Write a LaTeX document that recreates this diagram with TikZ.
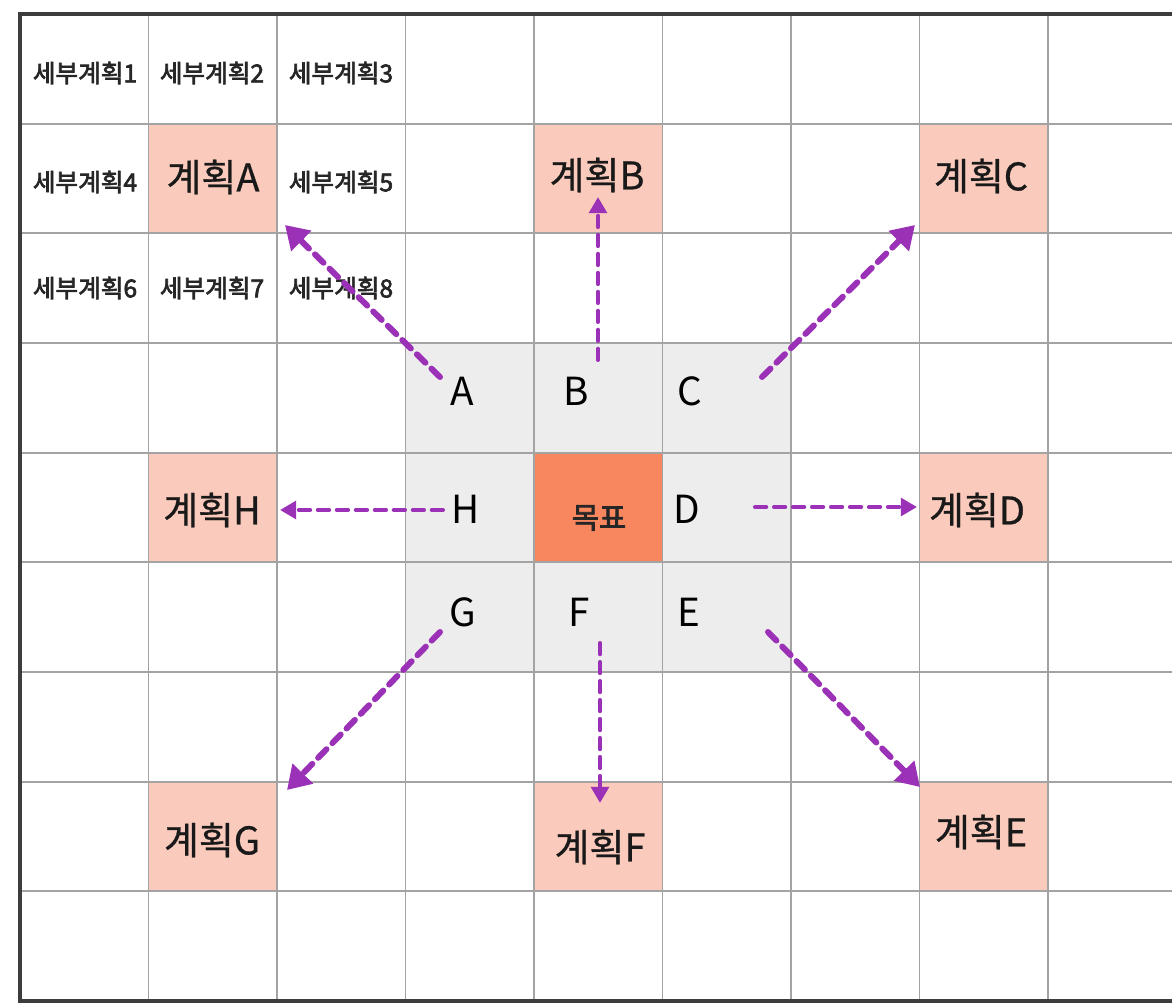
\documentclass[tikz,border=0pt]{standalone}
\usepackage{fontspec}
\setmainfont{Noto Sans CJK KR}
\newfontfamily\medfont[FakeBold=2.6]{Noto Sans CJK KR}
\newfontfamily\semifont[FakeBold=0.7]{Noto Sans CJK KR}
\usetikzlibrary{arrows.meta}
\definecolor{pinkc}{HTML}{FACBBC}
\definecolor{orangec}{HTML}{F8875F}
\definecolor{grayc}{HTML}{EDEDED}
\definecolor{gridc}{HTML}{A3A3A3}
\definecolor{framec}{HTML}{3C3C3C}
\definecolor{arrc}{HTML}{9B31B6}
\tikzset{
  subtxt/.style={font=\fontsize{7pt}{8pt}\selectfont\medfont, text=black!85, inner sep=0pt},
  plantxt/.style={font=\fontsize{10.8pt}{12pt}\selectfont\semifont, text=black!90, inner sep=0pt},
  lettxt/.style={font=\fontsize{11pt}{13pt}\selectfont, text=black, inner sep=0pt},
  goaltxt/.style={font=\fontsize{8.4pt}{10pt}\selectfont\medfont, text=black!85, inner sep=0pt},
  arrdiag/.style={draw=arrc, line width=1.7pt, dash pattern=on 3.4pt off 2.4pt, line cap=round,
    -{Triangle[length=6.5pt,width=7.8pt]}},
  arrstr/.style={draw=arrc, line width=1.15pt, dash pattern=on 3.2pt off 2.2pt, line cap=round,
    -{Triangle[length=4.6pt,width=5pt]}},
}
\begin{document}
\begin{tikzpicture}[x=0.01cm, y=-0.01cm]
\useasboundingbox (0,0) rectangle (1172,1006);
\fill[white] (0,0) rectangle (1172,1006);
% cell fills
\def\cw{128.5}\def\ch{109.67}
\foreach \c/\r/\col in {1/1/pinkc,4/1/pinkc,7/1/pinkc,1/4/pinkc,7/4/pinkc,1/7/pinkc,4/7/pinkc,7/7/pinkc,
  3/3/grayc,4/3/grayc,5/3/grayc,3/4/grayc,4/4/orangec,5/4/grayc,3/5/grayc,4/5/grayc,5/5/grayc}{
  \fill[\col] ({20+\c*\cw},{14+\r*\ch}) rectangle ({20+(\c+1)*\cw},{14+(\r+1)*\ch});
}
% grid
\foreach \i in {1,...,8}{
  \draw[gridc, line width=0.55pt] ({20+\i*\cw},14) -- ({20+\i*\cw},1001);
  \draw[gridc, line width=0.55pt] (20,{14+\i*\ch}) -- (1172,{14+\i*\ch});
}
% frame
\draw[framec, line width=1.05pt] (1172,14) -- (20,14) -- (20,1001) -- (1172,1001);
% sub-plan texts
\node[subtxt] (s1) at (85,73) {세부계획1};
\node[subtxt] (s2) at (212,73) {세부계획2};
\node[subtxt] (s3) at (341,73) {세부계획3};
\node[subtxt] (s4) at (85,182) {세부계획4};
\node[subtxt] (s5) at (341,182) {세부계획5};
\node[subtxt] (s6) at (85,288) {세부계획6};
\node[subtxt] (s7) at (212,288) {세부계획7};
\node[subtxt] (s8) at (341,288) {세부계획8};
% plan texts
\node[plantxt] (pA) at (213,177) {계획A};
\node[plantxt] (pB) at (597,175) {계획B};
\node[plantxt] (pC) at (981,176) {계획C};
\node[plantxt] (pH) at (212,510) {계획H};
\node[plantxt] (pD) at (977,510) {계획D};
\node[plantxt] (pG) at (212,840) {계획G};
\node[plantxt] (pF) at (600,847) {계획F};
\node[plantxt] (pE) at (981,832) {계획E};
% letters
\node[lettxt] (lA) at (462,391) {A};
\node[lettxt] (lB) at (576,391) {B};
\node[lettxt] (lC) at (690,391) {C};
\node[lettxt] (lH) at (466,509) {H};
\node[lettxt] (lD) at (687,509) {D};
\node[lettxt] (lG) at (463,612) {G};
\node[lettxt] (lF) at (579,612) {F};
\node[lettxt] (lE) at (689,612) {E};
\node[goaltxt] (goal) at (599,518) {목표};
% arrow endpoints
\coordinate (aA0) at (440,377); \coordinate (aA1) at (285,225);
\coordinate (aB0) at (598,360); \coordinate (aB1) at (598,197);
\coordinate (aC0) at (762,377); \coordinate (aC1) at (915,225);
\coordinate (aD0) at (755,507); \coordinate (aD1) at (917,507);
\coordinate (aH0) at (443,510); \coordinate (aH1) at (280,510);
\coordinate (aG0) at (440,632); \coordinate (aG1) at (287,790);
\coordinate (aF0) at (600,643); \coordinate (aF1) at (600,803);
\coordinate (aE0) at (768,632); \coordinate (aE1) at (920,787);
\draw[arrdiag] (aA0) -- (aA1);
\draw[arrdiag] (aC0) -- (aC1);
\draw[arrdiag] (aG0) -- (aG1);
\draw[arrdiag] (aE0) -- (aE1);
\draw[arrstr] (aB0) -- (aB1);
\draw[arrstr] (aD0) -- (aD1);
\draw[arrstr] (aH0) -- (aH1);
\draw[arrstr] (aF0) -- (aF1);
\end{tikzpicture}
\end{document}
